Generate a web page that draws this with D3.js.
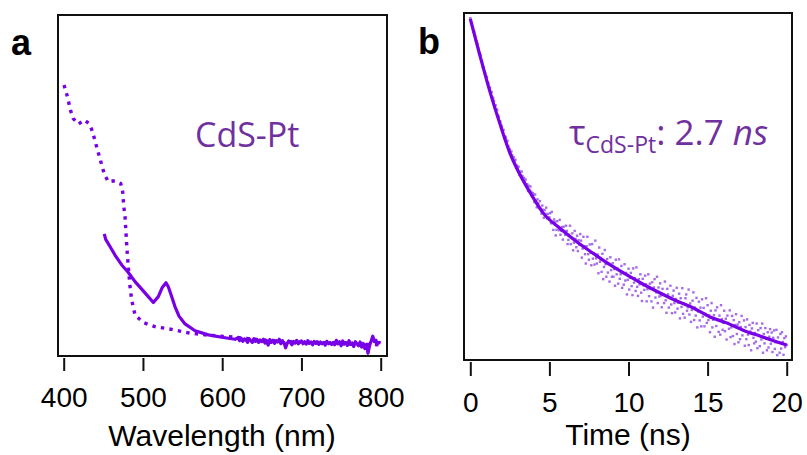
<!DOCTYPE html>
<html>
<head>
<meta charset="utf-8">
<script src="https://cdn.jsdelivr.net/npm/d3@7.9.0/dist/d3.min.js"></script>
<style>
  html, body { margin: 0; padding: 0; background: #fff; }
  svg { display: block; }
  .tick text { font-family: "Liberation Sans", Arial, sans-serif; font-size: 28px; fill: #000; }
</style>
</head>
<body>
<svg id="chart" width="807" height="455"></svg>
<script>
// panel a: absorption spectra (dotted = CdS, solid = CdS-Pt)
const dottedWavelength = [400.4, 403.8, 406.3, 408.8, 412.1, 418.4, 426, 432.8, 436.6, 439.5, 442.4, 445.4, 448.3, 451.2, 456.3, 464.7, 471.9, 474.4, 475.2, 476.1, 477.4, 478.6, 479.9, 481.5, 483.7, 485.8, 490, 500.4, 515.2, 536.3, 557.2, 578.3, 616.2, 650, 700, 750, 800];
const dottedAbs = [0.795, 0.768, 0.744, 0.719, 0.696, 0.680, 0.692, 0.680, 0.656, 0.631, 0.606, 0.582, 0.557, 0.534, 0.511, 0.514, 0.506, 0.482, 0.457, 0.433, 0.409, 0.361, 0.311, 0.262, 0.203, 0.164, 0.120, 0.098, 0.086, 0.078, 0.068, 0.062, 0.055, 0.047, 0.040, 0.036, 0.033];

const solidWavelength = [451.2, 453, 458.4, 464.7, 473.2, 480.8, 490, 498.4, 506.7, 513.1, 519.4, 524.4, 529.1, 532, 536.3, 540.4, 545.5, 553.1, 565.7, 582.5, 599.4, 616.2];
const solidAbs = [0.358, 0.342, 0.321, 0.296, 0.267, 0.247, 0.218, 0.196, 0.174, 0.157, 0.174, 0.201, 0.215, 0.203, 0.174, 0.145, 0.117, 0.094, 0.074, 0.062, 0.055, 0.049];

// noisy tail of the solid spectrum, 620-800 nm every 2 nm
const tailStart = 620;
const tailStep = 2;
const tailAbs = [
  0.054, 0.045, 0.052, 0.043, 0.050, 0.047, 0.040, 0.051, 0.045, 0.040,
  0.051, 0.043, 0.048, 0.040, 0.047, 0.042, 0.049, 0.038, 0.045, 0.032,
  0.048, 0.040, 0.046, 0.037, 0.045, 0.041, 0.049, 0.036, 0.044, 0.039,
  0.024, 0.037, 0.044, 0.040, 0.033, 0.043, 0.038, 0.046, 0.036, 0.042,
  0.044, 0.036, 0.042, 0.035, 0.045, 0.037, 0.041, 0.033, 0.043, 0.037,
  0.042, 0.034, 0.041, 0.036, 0.040, 0.032, 0.043, 0.036, 0.040, 0.034,
  0.040, 0.033, 0.046, 0.036, 0.042, 0.030, 0.044, 0.035, 0.040, 0.031,
  0.045, 0.034, 0.038, 0.028, 0.042, 0.036, 0.030, 0.041, 0.026, 0.037,
  0.022, 0.034, 0.008, 0.031, 0.044, 0.058, 0.042, 0.046, 0.036, 0.040,
  0.038
];

const wavelengthTicks = [400, 500, 600, 700, 800];

// panel b: PL decay, fit line + raw counts every 0.05 ns
const fitTime = [0, 0.6, 1.25, 1.9, 2.5, 3.15, 3.8, 4.6, 5.7, 6.75, 7.75, 8.85, 9.9, 10.9, 12, 13.05, 14.1, 15.15, 16.2, 17.25, 18.3, 19.4, 20];
const fitValue = [0.983, 0.879, 0.772, 0.677, 0.597, 0.533, 0.481, 0.424, 0.378, 0.340, 0.308, 0.274, 0.245, 0.219, 0.193, 0.170, 0.150, 0.124, 0.107, 0.086, 0.069, 0.052, 0.043];

const decayStep = 0.05;
const decayCounts = [
  0.985, 0.971, 0.971, 0.958, 0.946, 0.946, 0.934, 0.921, 0.917, 0.912, 0.898, 0.886, 0.884, 0.879, 0.864, 0.859, 0.843, 0.844, 0.832, 0.826,
  0.818, 0.815, 0.800, 0.797, 0.783, 0.785, 0.773, 0.772, 0.758, 0.754, 0.746, 0.730, 0.734, 0.722, 0.721, 0.705, 0.701, 0.688, 0.687, 0.676,
  0.672, 0.660, 0.663, 0.640, 0.644, 0.641, 0.626, 0.632, 0.616, 0.602, 0.607, 0.597, 0.601, 0.590, 0.576, 0.584, 0.573, 0.577, 0.560, 0.560,
  0.553, 0.557, 0.534, 0.543, 0.533, 0.543, 0.530, 0.516, 0.525, 0.514, 0.520, 0.502, 0.507, 0.487, 0.502, 0.490, 0.500, 0.485, 0.471, 0.481,
  0.476, 0.455, 0.477, 0.459, 0.440, 0.463, 0.451, 0.438, 0.458, 0.436, 0.422, 0.445, 0.433, 0.410, 0.432, 0.421, 0.439, 0.408, 0.421, 0.408,
  0.411, 0.423, 0.394, 0.427, 0.396, 0.375, 0.405, 0.398, 0.359, 0.375, 0.400, 0.384, 0.374, 0.404, 0.361, 0.372, 0.383, 0.347, 0.384, 0.372,
  0.361, 0.387, 0.372, 0.334, 0.346, 0.361, 0.387, 0.334, 0.352, 0.365, 0.316, 0.338, 0.372, 0.349, 0.325, 0.358, 0.314, 0.345, 0.332, 0.363,
  0.344, 0.295, 0.321, 0.355, 0.328, 0.305, 0.278, 0.328, 0.355, 0.305, 0.289, 0.333, 0.309, 0.273, 0.334, 0.292, 0.307, 0.275, 0.344, 0.293,
  0.278, 0.304, 0.250, 0.324, 0.283, 0.289, 0.254, 0.306, 0.233, 0.268, 0.317, 0.276, 0.240, 0.291, 0.252, 0.278, 0.226, 0.296, 0.259, 0.240,
  0.279, 0.240, 0.262, 0.214, 0.289, 0.247, 0.264, 0.220, 0.290, 0.234, 0.247, 0.271, 0.208, 0.251, 0.217, 0.276, 0.229, 0.251, 0.189, 0.231,
  0.263, 0.203, 0.237, 0.251, 0.213, 0.187, 0.264, 0.223, 0.236, 0.199, 0.267, 0.211, 0.185, 0.233, 0.218, 0.247, 0.194, 0.170, 0.234, 0.215,
  0.202, 0.243, 0.218, 0.169, 0.204, 0.247, 0.184, 0.220, 0.205, 0.169, 0.224, 0.151, 0.209, 0.233, 0.180, 0.195, 0.240, 0.164, 0.209, 0.183,
  0.221, 0.186, 0.152, 0.205, 0.190, 0.164, 0.226, 0.172, 0.136, 0.205, 0.189, 0.151, 0.179, 0.214, 0.160, 0.135, 0.185, 0.200, 0.164, 0.137,
  0.176, 0.208, 0.148, 0.165, 0.191, 0.120, 0.178, 0.153, 0.207, 0.133, 0.163, 0.122, 0.178, 0.189, 0.142, 0.152, 0.203, 0.131, 0.163, 0.110,
  0.144, 0.171, 0.195, 0.115, 0.151, 0.128, 0.179, 0.094, 0.140, 0.168, 0.114, 0.151, 0.097, 0.175, 0.125, 0.150, 0.097, 0.133, 0.178, 0.107,
  0.158, 0.115, 0.129, 0.080, 0.142, 0.164, 0.094, 0.116, 0.129, 0.067, 0.143, 0.098, 0.152, 0.115, 0.081, 0.128, 0.073, 0.158, 0.118, 0.087,
  0.107, 0.142, 0.083, 0.119, 0.059, 0.128, 0.107, 0.090, 0.143, 0.066, 0.094, 0.127, 0.069, 0.115, 0.046, 0.101, 0.132, 0.075, 0.102, 0.051,
  0.109, 0.060, 0.095, 0.127, 0.071, 0.085, 0.114, 0.041, 0.095, 0.060, 0.117, 0.073, 0.043, 0.101, 0.082, 0.028, 0.091, 0.107, 0.064, 0.048,
  0.078, 0.053, 0.105, 0.034, 0.086, 0.071, 0.040, 0.092, 0.059, 0.105, 0.021, 0.075, 0.048, 0.092, 0.061, 0.028, 0.080, 0.036, 0.067, 0.089,
  0.047, 0.079, 0.023, 0.064, 0.085, 0.032, 0.051, 0.087, 0.014, 0.065, 0.051, 0.021, 0.075, 0.033, 0.080, 0.052, 0.015, 0.063, 0.037, 0.068,
  0.043
];

const timeTicks = [0, 5, 10, 15, 20];

const lineColor = '#7800e6';
const dotColor = '#a66be8';
const textColor = '#7030a0';

const svg = d3.select('#chart');

// ---- panel a ----
const xA = d3.scaleLinear().domain([400, 800]).range([63.7, 380.7]);
const yA = d3.scaleLinear().domain([0, 1]).range([356, 15]);

const dotted = dottedWavelength.map((w, i) => [w, dottedAbs[i]]);
const solid = solidWavelength.map((w, i) => [w, solidAbs[i]])
  .concat(tailAbs.map((v, i) => [tailStart + i * tailStep, v]));

const lineA = d3.line().x((d) => xA(d[0])).y((d) => yA(d[1]));

svg.append('path')
  .attr('d', lineA(dotted))
  .attr('fill', 'none')
  .attr('stroke', lineColor)
  .attr('stroke-width', 3.4)
  .attr('stroke-dasharray', '3.4,5.2');

svg.append('path')
  .attr('d', lineA(solid))
  .attr('fill', 'none')
  .attr('stroke', lineColor)
  .attr('stroke-width', 3.2)
  .attr('stroke-linejoin', 'round');

svg.append('rect')
  .attr('x', 58).attr('y', 15).attr('width', 329).attr('height', 341)
  .attr('fill', 'none').attr('stroke', '#111').attr('stroke-width', 2);

const axisA = svg.append('g')
  .attr('transform', 'translate(0,358)')
  .call(d3.axisBottom(xA).tickValues(wavelengthTicks).tickSize(13).tickSizeOuter(0).tickPadding(16));
axisA.select('.domain').remove();
axisA.selectAll('.tick line').attr('stroke', '#111').attr('stroke-width', 2);

svg.append('text')
  .attr('x', 222).attr('y', 446)
  .attr('text-anchor', 'middle')
  .style('font-family', '"Liberation Sans", Arial, sans-serif')
  .style('font-size', '30px')
  .text('Wavelength (nm)');

svg.append('text')
  .attr('x', 195).attr('y', 147)
  .style('font-family', '"Open Sans", sans-serif')
  .style('font-size', '34px')
  .attr('fill', textColor)
  .text('CdS-Pt');

svg.append('text')
  .attr('x', 11).attr('y', 55)
  .style('font-family', '"Liberation Sans", Arial, sans-serif')
  .style('font-size', '36px')
  .style('font-weight', 'bold')
  .text('a');

// ---- panel b ----
const xB = d3.scaleLinear().domain([0, 20]).range([470.3, 786.7]);
const yB = d3.scaleLinear().domain([0, 1]).range([360, 13]);

svg.append('g')
  .selectAll('rect')
  .data(decayCounts)
  .join('rect')
  .attr('x', (d, i) => xB(i * decayStep) - 1.2)
  .attr('y', (d) => yB(d) - 1.2)
  .attr('width', 2.4)
  .attr('height', 2.4)
  .attr('fill', dotColor);

const fit = fitTime.map((t, i) => [t, fitValue[i]]);
svg.append('path')
  .attr('d', d3.line().curve(d3.curveMonotoneX).x((d) => xB(d[0])).y((d) => yB(d[1]))(fit))
  .attr('fill', 'none')
  .attr('stroke', lineColor)
  .attr('stroke-width', 3.2);

svg.append('rect')
  .attr('x', 464).attr('y', 13).attr('width', 328).attr('height', 347)
  .attr('fill', 'none').attr('stroke', '#111').attr('stroke-width', 2);

const axisB = svg.append('g')
  .attr('transform', 'translate(0,362)')
  .call(d3.axisBottom(xB).tickValues(timeTicks).tickSize(14).tickPadding(16));
axisB.select('.domain').remove();
axisB.selectAll('.tick line').attr('stroke', '#111').attr('stroke-width', 2);

svg.append('text')
  .attr('x', 628).attr('y', 445)
  .attr('text-anchor', 'middle')
  .style('font-family', '"Liberation Sans", Arial, sans-serif')
  .style('font-size', '30px')
  .text('Time (ns)');

const tau = svg.append('text')
  .attr('x', 569).attr('y', 145)
  .style('font-family', '"Open Sans", sans-serif')
  .style('font-size', '35px')
  .attr('fill', textColor);
tau.append('tspan').text('τ');
tau.append('tspan').attr('dy', 8).style('font-size', '23px').text('CdS-Pt');
tau.append('tspan').attr('dy', -8).text(': 2.7 ');
tau.append('tspan').style('font-style', 'italic').text('ns');

svg.append('text')
  .attr('x', 418).attr('y', 54)
  .style('font-family', '"Liberation Sans", Arial, sans-serif')
  .style('font-size', '36px')
  .style('font-weight', 'bold')
  .text('b');
</script>
</body>
</html>
